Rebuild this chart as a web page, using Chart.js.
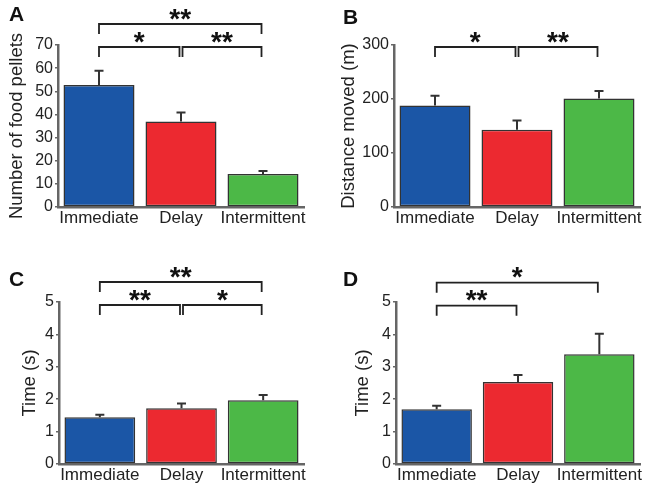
<!DOCTYPE html>
<html>
<head>
<meta charset="utf-8">
<script src="https://cdn.jsdelivr.net/npm/chart.js@4.4.1/dist/chart.umd.min.js"></script>
<style>
  html, body { margin: 0; padding: 0; background: #fff; }
  #wrap { position: relative; width: 645px; height: 485px; overflow: hidden; }
  .panel { position: absolute; }
</style>
</head>
<body>
<div id="wrap">
  <div class="panel" style="left:0;top:0"><canvas id="chartA" width="320" height="240"></canvas></div>
  <div class="panel" style="left:320px;top:0"><canvas id="chartB" width="325" height="240"></canvas></div>
  <div class="panel" style="left:0;top:240px"><canvas id="chartC" width="320" height="245"></canvas></div>
  <div class="panel" style="left:320px;top:240px"><canvas id="chartD" width="325" height="245"></canvas></div>
</div>
<script>
// Data
const categories = ['Immediate', 'Delay', 'Intermittent'];

const pelletMeans = [52.7, 36.9, 14.3];
const pelletErrors = [6.2, 3.9, 1.3];
const pelletSig = [[0, 2, '**', 1], [0, 1, '*', 0], [1, 2, '**', 0]];

const distanceMeans = [188, 143, 201];
const distanceErrors = [18, 17, 14];
const distanceSig = [[0, 1, '*', 0], [1, 2, '**', 0]];

const timeCMeans = [1.44, 1.72, 1.97];
const timeCErrors = [0.08, 0.15, 0.16];
const timeCSig = [[0, 2, '**', 1], [0, 1, '**', 0], [1, 2, '*', 0]];

const timeDMeans = [1.69, 2.53, 3.39];
const timeDErrors = [0.11, 0.22, 0.63];
const timeDSig = [[0, 2, '*', 1], [0, 1, '**', 0]];

const barColors = ['#1b56a6', '#ec2930', '#4cb847'];
const FONT = "'Liberation Sans', Arial, Helvetica, sans-serif";

Chart.defaults.font.family = FONT;
Chart.defaults.color = '#222';

// error bars (upper only), significance brackets, panel letter
const annotate = {
  id: 'annotate',
  afterDatasetsDraw(chart, args, opts) {
    const { ctx, chartArea } = chart;
    const x = chart.scales.x, y = chart.scales.y;
    const meta = chart.getDatasetMeta(0);

    ctx.save();
    ctx.strokeStyle = '#333';
    ctx.lineWidth = 2;
    meta.data.forEach((bar, i) => {
      const top = y.getPixelForValue(opts.means[i] + opts.errors[i]);
      ctx.beginPath();
      ctx.moveTo(bar.x, bar.y);
      ctx.lineTo(bar.x, top);
      ctx.moveTo(bar.x - 4.5, top);
      ctx.lineTo(bar.x + 4.5, top);
      ctx.stroke();
    });

    // brackets
    ctx.strokeStyle = '#222';
    ctx.lineWidth = 1.8;
    ctx.fillStyle = '#111';
    ctx.font = 'bold 28px ' + FONT;
    ctx.textAlign = 'center';
    ctx.textBaseline = 'middle';
    opts.sig.forEach(([a, b, label, level]) => {
      const ly = chartArea.top + opts.bracketOffset - level * 23;
      const x1 = x.getPixelForValue(a) + (a > 0 ? 1.5 : 0);
      const x2 = x.getPixelForValue(b) - 1.5;
      ctx.beginPath();
      ctx.moveTo(x1, ly + 10);
      ctx.lineTo(x1, ly);
      ctx.lineTo(x2, ly);
      ctx.lineTo(x2, ly + 10);
      ctx.stroke();
      ctx.fillText(label, (x1 + x2) / 2, ly - 4);
    });

    ctx.font = 'bold 21px ' + FONT;
    ctx.textAlign = 'left';
    ctx.fillStyle = '#111';
    ctx.fillText(opts.letter, opts.letterX, opts.letterY);
    ctx.restore();
  }
};

function makePanel(id, p) {
  return new Chart(document.getElementById(id), {
    type: 'bar',
    data: {
      labels: categories,
      datasets: [{
        data: p.means,
        backgroundColor: barColors,
        borderColor: '#333',
        borderWidth: 1.5,
        borderSkipped: false,
        categoryPercentage: 1,
        barPercentage: 0.866,
      }],
    },
    options: {
      responsive: false,
      animation: false,
      devicePixelRatio: 1,
      layout: { padding: { top: p.top, right: p.right, bottom: 0, left: 0 } },
      plugins: {
        legend: { display: false },
        tooltip: { enabled: false },
        annotate: {
          means: p.means,
          errors: p.errors,
          sig: p.sig,
          bracketOffset: p.bracketOffset,
          letter: p.letter,
          letterX: p.letterX,
          letterY: p.letterY,
        },
      },
      scales: {
        x: {
          grid: { display: false, drawTicks: false },
          border: { display: true, color: '#666', width: 2.5 },
          ticks: {
            font: { size: 17 },
            color: '#222',
            padding: 1,
            autoSkip: false,
            maxRotation: 0,
            minRotation: 0,
          },
          afterFit(scale) {
            scale.height = p.xHeight;
            scale.paddingLeft = 0;
            scale.paddingRight = 0;
          },
        },
        y: {
          min: 0,
          max: p.max,
          grid: { display: true, drawOnChartArea: false, drawTicks: true, tickLength: 3, color: '#666', lineWidth: 1.5 },
          border: { display: true, color: '#666', width: 2.5 },
          ticks: { stepSize: p.step, font: { size: 16 }, color: '#222', padding: 2 },
          title: {
            display: true,
            text: p.title,
            font: { size: 18.5 },
            color: '#222',
            padding: { top: p.titlePad, bottom: 0 },
          },
          afterFit(scale) {
            scale.width = p.yWidth;
            scale.paddingTop = 0;
            scale.paddingBottom = 0;
          },
        },
      },
    },
    plugins: [annotate],
  });
}

makePanel('chartA', {
  means: pelletMeans, errors: pelletErrors, sig: pelletSig,
  max: 70, step: 10, title: 'Number of food pellets',
  top: 45, right: 16, xHeight: 33, yWidth: 58, titlePad: 6,
  bracketOffset: 2, letter: 'A', letterX: 9, letterY: 15,
});

makePanel('chartB', {
  means: distanceMeans, errors: distanceErrors, sig: distanceSig,
  max: 300, step: 100, title: 'Distance moved (m)',
  top: 45, right: 5, xHeight: 33, yWidth: 74, titlePad: 18,
  bracketOffset: 2, letter: 'B', letterX: 23, letterY: 18,
});

makePanel('chartC', {
  means: timeCMeans, errors: timeCErrors, sig: timeCSig,
  max: 5, step: 1, title: 'Time (s)',
  top: 62, right: 16, xHeight: 21, yWidth: 59, titlePad: 19,
  bracketOffset: 3, letter: 'C', letterX: 9, letterY: 40,
});

makePanel('chartD', {
  means: timeDMeans, errors: timeDErrors, sig: timeDSig,
  max: 5, step: 1, title: 'Time (s)',
  top: 62, right: 5, xHeight: 21, yWidth: 76, titlePad: 32,
  bracketOffset: 3.7, letter: 'D', letterX: 23, letterY: 40,
});
</script>
</body>
</html>
